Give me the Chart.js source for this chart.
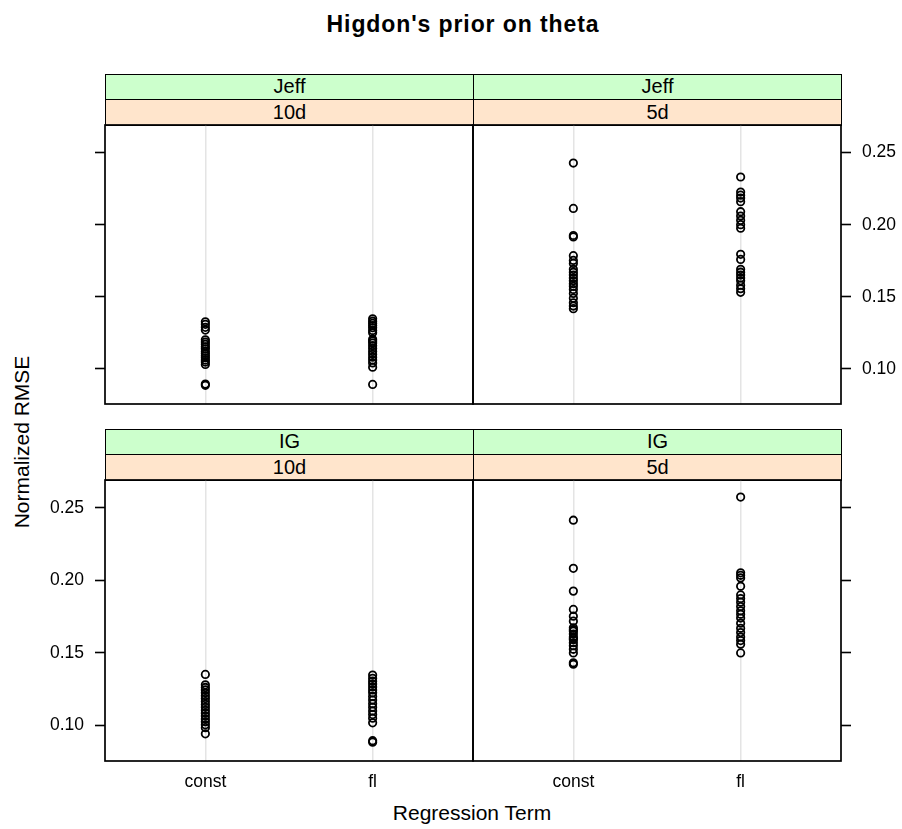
<!DOCTYPE html>
<html>
<head>
<meta charset="utf-8">
<title>Higdon's prior on theta</title>
<script src="https://cdn.jsdelivr.net/npm/chart.js@4.4.1/dist/chart.umd.min.js"></script>
<style>
  body { margin: 0; background: #fff; }
  #wrap { position: relative; width: 902px; height: 829px; font-family: "Liberation Sans", Arial, sans-serif; color: #000; }
  #wrap canvas { position: absolute; left: 0; top: 0; pointer-events: none; }
  .strip { position: absolute; box-sizing: border-box; border: 1.5px solid #000; text-align: center; font-size: 20px; }
  .txt { position: absolute; white-space: nowrap; }
</style>
</head>
<body>
<div id="wrap">
  <div class="txt" style="left:0; width:926px; top:11px; text-align:center; font-size:23px; font-weight:bold; letter-spacing:0.9px;">Higdon's prior on theta</div>
  <div class="txt" style="left:272px; width:400px; top:801px; text-align:center; font-size:21px;">Regression Term</div>
  <div class="txt" style="left:22px; top:442px; font-size:21px; transform: translate(-50%, -50%) rotate(-90deg);">Normalized RMSE</div>
</div>
<script>
// categories on the x axis and shared y ticks
const categories = ['const', 'fl'];
const yTicks = [0.10, 0.15, 0.20, 0.25];
const yRange = [0.0755, 0.2692];

// Normalized RMSE per replicate, prior Jeff
const jeff10dConst = [0.1326, 0.1308, 0.1287, 0.1268, 0.1201, 0.1185, 0.1170, 0.1152, 0.1138, 0.1120, 0.1106, 0.1090, 0.1076, 0.1060, 0.1046, 0.1030, 0.0893, 0.0885];
const jeff10dFl = [0.1347, 0.1330, 0.1315, 0.1300, 0.1285, 0.1265, 0.1250, 0.1205, 0.1192, 0.1178, 0.1160, 0.1140, 0.1120, 0.1100, 0.1080, 0.1060, 0.1040, 0.1010, 0.0891];
const jeff5dConst = [0.2428, 0.2113, 0.1925, 0.1915, 0.1785, 0.1752, 0.1731, 0.1690, 0.1670, 0.1650, 0.1630, 0.1610, 0.1590, 0.1572, 0.1550, 0.1523, 0.1490, 0.1458, 0.1435, 0.1417];
const jeff5dFl = [0.2331, 0.2226, 0.2205, 0.2185, 0.2160, 0.2090, 0.2060, 0.2030, 0.2000, 0.1975, 0.1794, 0.1759, 0.1690, 0.1670, 0.1650, 0.1630, 0.1610, 0.1580, 0.1555, 0.1530];

// prior IG
const ig10dConst = [0.1352, 0.1280, 0.1262, 0.1245, 0.1225, 0.1205, 0.1185, 0.1165, 0.1145, 0.1125, 0.1105, 0.1085, 0.1065, 0.1045, 0.1025, 0.1005, 0.0985, 0.0942];
const ig10dFl = [0.1347, 0.1325, 0.1305, 0.1285, 0.1265, 0.1245, 0.1225, 0.1200, 0.1175, 0.1150, 0.1125, 0.1100, 0.1075, 0.1050, 0.1018, 0.0895, 0.0885];
const ig5dConst = [0.2415, 0.2083, 0.1926, 0.1800, 0.1753, 0.1719, 0.1673, 0.1660, 0.1650, 0.1630, 0.1610, 0.1600, 0.1590, 0.1570, 0.1550, 0.1525, 0.1500, 0.1432, 0.1422];
const ig5dFl = [0.2574, 0.2052, 0.2035, 0.2017, 0.1960, 0.1900, 0.1875, 0.1850, 0.1820, 0.1790, 0.1767, 0.1740, 0.1705, 0.1670, 0.1640, 0.1610, 0.1585, 0.1560, 0.1500];

const PAGE_W = 902, PAGE_H = 829;
const AXIS_W = 70, AXIS_H = 40;
const FONT = '"Liberation Sans", Arial, sans-serif';

// panel boxes [left, top, right, bottom] and which side carries the y axis
const panels = [
  { outer: 'Jeff', inner: '10d', series: [jeff10dConst, jeff10dFl], rect: [105, 125, 473, 404], side: 'left', yLabels: false, xLabels: false },
  { outer: 'Jeff', inner: '5d', series: [jeff5dConst, jeff5dFl], rect: [473, 125, 841, 404], side: 'right', yLabels: true, xLabels: false },
  { outer: 'IG', inner: '10d', series: [ig10dConst, ig10dFl], rect: [105, 480, 473, 761], side: 'left', yLabels: true, xLabels: true },
  { outer: 'IG', inner: '5d', series: [ig5dConst, ig5dFl], rect: [473, 480, 841, 761], side: 'right', yLabels: false, xLabels: true }
];

// box around the plotting region
const framePlugin = {
  id: 'frame',
  afterDraw(chart) {
    const a = chart.chartArea;
    const ctx = chart.ctx;
    ctx.save();
    ctx.strokeStyle = '#000';
    ctx.lineWidth = 1.7;
    ctx.strokeRect(a.left, a.top, a.right - a.left, a.bottom - a.top);
    ctx.restore();
  }
};

const wrap = document.getElementById('wrap');

function addStrip(text, color, left, top, width, height) {
  const div = document.createElement('div');
  div.className = 'strip';
  div.style.cssText = `left:${left}px; top:${top}px; width:${width}px; height:${height}px; line-height:${height - 3}px; background:${color};`;
  div.textContent = text;
  wrap.appendChild(div);
}

panels.forEach(p => {
  const [L, T, R, B] = p.rect;

  // two strips above each panel: prior (green) then dimension (peach)
  addStrip(p.outer, '#ccffcc', L, T - 51, R - L + 1, 26);
  addStrip(p.inner, '#ffe5cc', L, T - 26, R - L + 1, 27);

  const points = [];
  p.series.forEach((vals, i) => vals.forEach(v => points.push({ x: i + 1, y: v })));

  const canvas = document.createElement('canvas');
  canvas.width = PAGE_W;
  canvas.height = PAGE_H;
  wrap.appendChild(canvas);

  new Chart(canvas.getContext('2d'), {
    type: 'scatter',
    data: {
      datasets: [{
        data: points,
        pointStyle: 'circle',
        pointRadius: 3.7,
        borderWidth: 1.8,
        borderColor: '#000',
        backgroundColor: 'rgba(0,0,0,0)'
      }]
    },
    options: {
      responsive: false,
      animation: false,
      events: [],
      layout: {
        padding: {
          left: p.side === 'left' ? L - AXIS_W : L,
          right: p.side === 'right' ? PAGE_W - R - AXIS_W : PAGE_W - R,
          top: T,
          bottom: PAGE_H - B - AXIS_H
        }
      },
      plugins: { legend: { display: false }, tooltip: { enabled: false } },
      scales: {
        x: {
          type: 'linear',
          position: 'bottom',
          min: 0.4,
          max: 2.6,
          afterBuildTicks: s => { s.ticks = categories.map((c, i) => ({ value: i + 1 })); },
          afterFit: s => { s.height = AXIS_H; },
          grid: { color: '#e4e4e4', lineWidth: 1.5, drawTicks: false },
          border: { display: false },
          ticks: {
            display: p.xLabels,
            padding: 11,
            color: '#000',
            font: { family: FONT, size: 17.5 },
            callback: v => categories[v - 1]
          }
        },
        y: {
          type: 'linear',
          position: p.side,
          min: yRange[0],
          max: yRange[1],
          afterBuildTicks: s => { s.ticks = yTicks.map(v => ({ value: v })); },
          afterFit: s => { s.width = AXIS_W; },
          grid: { drawOnChartArea: false, tickLength: 10, tickColor: '#000', tickWidth: 1.6 },
          border: { display: false },
          ticks: {
            display: p.yLabels,
            padding: 11,
            color: '#000',
            font: { family: FONT, size: 17.5 },
            callback: v => v.toFixed(2)
          }
        }
      }
    },
    plugins: [framePlugin]
  });
});
</script>
</body>
</html>
